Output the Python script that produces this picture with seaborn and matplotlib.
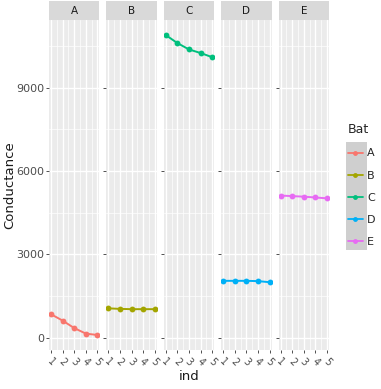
import pandas as pd
import matplotlib.pyplot as plt
import numpy as np
import seaborn as sns
from matplotlib.patches import Rectangle
from matplotlib.lines import Line2D

# valores
bats = ['A', 'B', 'C', 'D', 'E']
ind = [1, 2, 3, 4, 5]
cond_A = [850, 620, 350, 150, 100]
cond_B = [1060, 1040, 1030, 1030, 1030]
cond_C = [10900, 10610, 10380, 10250, 10100]
cond_D = [2050, 2050, 2050, 2040, 2000]
cond_E = [5120, 5100, 5080, 5050, 5020]
cores = ['#F8766D', '#A3A500', '#00BF7D', '#00B0F6', '#E76BF3']

valores = [cond_A, cond_B, cond_C, cond_D, cond_E]
df = pd.DataFrame({
    'Bat': np.repeat(bats, len(ind)),
    'ind': ind * len(bats),
    'Conductance': np.concatenate(valores),
})

sns.set_style('darkgrid', {'axes.facecolor': '#EBEBEB', 'grid.color': 'white'})
plt.rcParams['font.family'] = ['DejaVu Sans']

g = sns.relplot(data=df, x='ind', y='Conductance', hue='Bat', col='Bat',
                kind='line', marker='o', palette=cores, legend=False,
                height=3, aspect=0.2, linewidth=1.4, markersize=4.2,
                markeredgewidth=0, facet_kws={'sharey': True, 'sharex': True})
fig = g.figure
fig.set_size_inches(3.81, 3.89)
fig.set_dpi(100)
fig.subplots_adjust(left=49 / 381, right=329 / 381, bottom=1 - 350 / 389,
                    top=1 - 20 / 389, wspace=0.14)

g.set_titles('')
g.set_axis_labels('', '')
for ax, b in zip(g.axes.flat, bats):
    ax.set_xlim(0.84, 5.16)
    ax.set_ylim(-440, 11440)
    ax.set_xticks(ind)
    ax.set_xticks([1.5, 2.5, 3.5, 4.5], minor=True)
    ax.set_yticks([0, 3000, 6000, 9000])
    ax.set_yticks([1500, 4500, 7500, 10500], minor=True)
    ax.grid(which='major', color='white', linewidth=1.0)
    ax.grid(which='minor', color='white', linewidth=0.5)
    for s in ax.spines.values():
        s.set_visible(False)
    ax.tick_params(axis='x', which='major', length=2.5, width=0.6, color='#333333',
                   labelsize=7, labelcolor='#4D4D4D', pad=2, bottom=True)
    ax.tick_params(axis='y', which='major', length=2.5, width=0.6, color='#333333',
                   labelsize=8, labelcolor='#4D4D4D', pad=1, left=True)
    ax.tick_params(which='minor', length=0)
    for lab in ax.get_xticklabels():
        lab.set_rotation(-45)
        lab.set_ha('center')
    # faixa do titulo (strip)
    ax.add_patch(Rectangle((0, 1.0), 1, 19 / 330, transform=ax.transAxes,
                           facecolor='#D9D9D9', edgecolor='none', clip_on=False))
    ax.text(0.5, 1 + 9.5 / 330, b, transform=ax.transAxes, ha='center', va='center',
            fontsize=7.5, color='#1A1A1A')
    ax.set_xlabel('')
    ax.set_ylabel('')

fig.text(189 / 381, 1 - 377 / 389, 'ind', ha='center', va='center', fontsize=9.5,
         color='#1A1A1A')
fig.text(10 / 381, 1 - 185 / 389, 'Conductance', ha='center', va='center',
         rotation=90, fontsize=9.5, color='#1A1A1A')

# legenda
fig.add_artist(Rectangle((346 / 381, 1 - 250 / 389), 21 / 381, 108 / 389,
                         transform=fig.transFigure, facecolor='#CFCFCF',
                         edgecolor='none', zorder=0))
handles = [Line2D([], [], color=c, marker='o', markersize=3.5, linewidth=1.3,
                  markeredgewidth=0) for c in cores]
leg = fig.legend(handles, bats, loc='upper left', bbox_to_anchor=(346 / 381, 1 - 121 / 389),
                 frameon=False, title='Bat', fontsize=8, title_fontsize=9,
                 handlelength=1.3, handletextpad=0.4, labelspacing=1.1,
                 borderaxespad=0, borderpad=0.2)
leg._legend_box.align = 'left'
leg.set_zorder(5)

fig.savefig('out.png', dpi=100)
